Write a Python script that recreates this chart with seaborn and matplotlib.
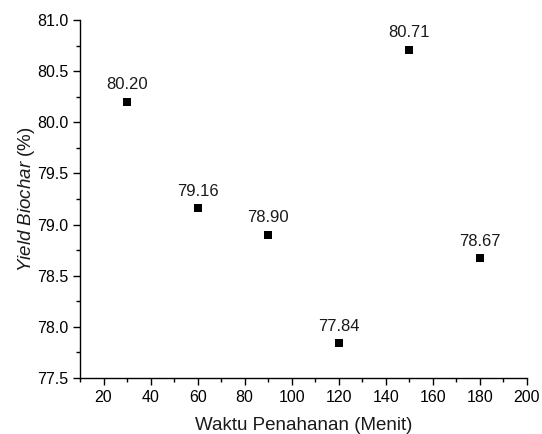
import matplotlib
matplotlib.use("Agg")
import matplotlib.pyplot as plt
import seaborn as sns
import pandas as pd
from matplotlib.ticker import MultipleLocator

waktu = [30, 60, 90, 120, 150, 180]
yield_biochar = [80.20, 79.16, 78.90, 77.84, 80.71, 78.67]
labels = ["80.20", "79.16", "78.90", "77.84", "80.71", "78.67"]

sns.set_theme(style="ticks")
plt.rcParams['font.family'] = ['Liberation Sans', 'DejaVu Sans']
plt.rcParams['mathtext.fontset'] = 'custom'
plt.rcParams['mathtext.rm'] = 'Liberation Sans'
plt.rcParams['mathtext.it'] = 'Liberation Sans:italic'

df = pd.DataFrame({"x": waktu, "y": yield_biochar})

fig = plt.figure(figsize=(5.42, 4.34), dpi=100)
ax = fig.add_axes([80/542, 1-378/434, (527-80)/542, (378-20)/434])
sns.scatterplot(data=df, x="x", y="y", marker="s", color="black", s=40,
                edgecolor="black", linewidth=0, ax=ax, zorder=3)
for xv, yv, lab in zip(waktu, yield_biochar, labels):
    ax.annotate(lab, (xv, yv), xytext=(0, 9), textcoords="offset points",
                ha="center", va="baseline", fontsize=12, color="#1a1a1a")

ax.set_xlim(10, 200)
ax.set_ylim(77.5, 81.0)
ax.xaxis.set_major_locator(MultipleLocator(20))
ax.xaxis.set_minor_locator(MultipleLocator(10))
ax.yaxis.set_major_locator(MultipleLocator(0.5))
ax.yaxis.set_minor_locator(MultipleLocator(0.25))
ax.tick_params(which="major", direction="out", length=5, width=1, labelsize=11.5,
               colors="black", pad=3.5)
ax.tick_params(which="minor", direction="out", length=3, width=1, colors="black")
for s in ["top", "right"]:
    ax.spines[s].set_visible(False)
for s in ["left", "bottom"]:
    ax.spines[s].set_linewidth(1)
    ax.spines[s].set_color("black")
ax.set_xlabel("Waktu Penahanan (Menit)", fontsize=13.5, labelpad=9, color="#1a1a1a")
ax.set_ylabel(r"$\mathit{Yield\ Biochar}$ (%)", fontsize=13.5, labelpad=0, color="#1a1a1a")
fig.savefig("out.png", dpi=100)
